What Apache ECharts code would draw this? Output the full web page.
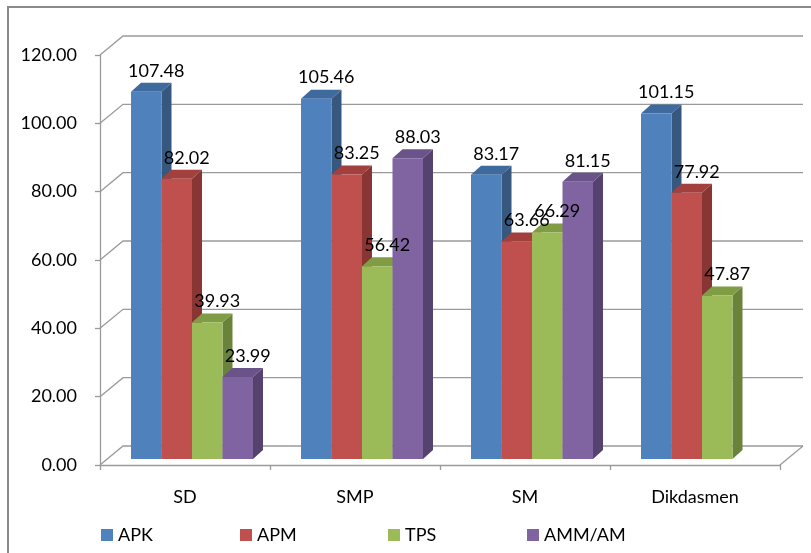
<!DOCTYPE html>
<html>
<head>
<meta charset="utf-8">
<script src="https://cdn.jsdelivr.net/npm/echarts@6/dist/echarts.min.js"></script>
<style>
  html, body { margin: 0; padding: 0; background: #fff; }
  #chart { width: 811px; height: 553px; }
</style>
</head>
<body>
<div id="chart"></div>
<script>
// Education participation indicators per school level
const categories = ['SD', 'SMP', 'SM', 'Dikdasmen'];
const seriesNames = ['APK', 'APM', 'TPS', 'AMM/AM'];
const apk = [107.48, 105.46, 83.17, 101.15];
const apm = [82.02, 83.25, 63.66, 77.92];
const tps = [39.93, 56.42, 66.29, 47.87];
const ammAm = [23.99, 88.03, 81.15, null];
const yTicks = [0, 20, 40, 60, 80, 100, 120];

const seriesValues = [apk, apm, tps, ammAm];

// face colours: front, top, side
const palette = [
  { front: '#4F81BD', top: '#3F6A9E', side: '#36587F' },
  { front: '#C0504D', top: '#A2403E', side: '#883533' },
  { front: '#9BBB59', top: '#809D45', side: '#6A833A' },
  { front: '#8064A2', top: '#6A5388', side: '#56426E' }
];

const FONT = 'Lato, "Open Sans", sans-serif';
const WALL_DX = 23, WALL_DY = 19;   // depth of the back wall
const BAR_DX = 10, BAR_DY = 9;      // depth of each bar
const BAR_SHIFT_X = 7, BAR_SHIFT_Y = -6; // bars sit a little behind the floor front edge
const BAR_W = 30.5;
const GRID_COLOR = '#9A9A9A';

function wallRender(params, api) {
  const cs = params.coordSys;
  const v = api.value(0);
  const y = api.coord([0, v])[1];
  const x0 = cs.x, x1 = cs.x + cs.width;
  const children = [
    { type: 'polyline', shape: { points: [[x0, y], [x0 + WALL_DX, y - WALL_DY], [x1 + WALL_DX, y - WALL_DY]] },
      style: { stroke: GRID_COLOR, lineWidth: 1.3, fill: null } }
  ];
  if (v === 0) {
    children.push({ type: 'line', shape: { x1: x1, y1: y, x2: x1 + WALL_DX, y2: y - WALL_DY },
      style: { stroke: GRID_COLOR, lineWidth: 1.3 } });
  }
  return { type: 'group', children: children };
}

function makeBarRender(idx) {
  const col = palette[idx];
  return function (params, api) {
    const cat = api.value(0);
    const val = api.value(1);
    if (val == null || isNaN(val)) return null;
    const base = api.coord([cat, 0]);
    const topPt = api.coord([cat, val]);
    const x = base[0] - 2 * BAR_W + idx * BAR_W + BAR_SHIFT_X;
    const yb = base[1] + BAR_SHIFT_Y;
    const yt = topPt[1] + BAR_SHIFT_Y;
    const w = BAR_W;
    return {
      type: 'group',
      children: [
        { type: 'polygon', shape: { points: [[x + w, yt], [x + w + BAR_DX, yt - BAR_DY], [x + w + BAR_DX, yb - BAR_DY], [x + w, yb]] },
          style: { fill: col.side } },
        { type: 'polygon', shape: { points: [[x, yt], [x + BAR_DX, yt - BAR_DY], [x + w + BAR_DX, yt - BAR_DY], [x + w, yt]] },
          style: { fill: col.top } },
        { type: 'rect', shape: { x: x, y: yt, width: w, height: yb - yt },
          style: { fill: col.front } },
        { type: 'text', x: x + w / 2 + 10, y: yt - 21,
          style: { text: val.toFixed(2), fill: '#000', font: '18px ' + FONT, align: 'center', verticalAlign: 'middle' }, z2: 10 }
      ]
    };
  };
}

const barSeries = seriesNames.map((name, idx) => ({
  name: name,
  type: 'custom',
  xAxisIndex: 0,
  yAxisIndex: 0,
  renderItem: makeBarRender(idx),
  itemStyle: { color: palette[idx].front },
  encode: { x: 0, y: 1 },
  data: categories.map((c, i) => [i, seriesValues[idx][i]]).filter(d => d[1] != null),
  z: 3
}));

const legendLefts = [96, 235, 383, 522];

const option = {
  animation: false,
  backgroundColor: '#fff',
  textStyle: { fontFamily: FONT },
  graphic: [
    { type: 'rect', shape: { x: 8, y: 7, width: 830, height: 580 },
      style: { fill: null, stroke: '#8A8A8A', lineWidth: 2 }, silent: true }
  ],
  legend: seriesNames.map((name, i) => ({
    data: [name],
    left: legendLefts[i],
    top: 521,
    icon: 'rect',
    itemWidth: 12,
    itemHeight: 12,
    itemGap: 5,
    textStyle: { fontSize: 18, color: '#000', fontFamily: FONT },
    selectedMode: false
  })),
  grid: { left: 100, top: 55, width: 680, height: 410, containLabel: false },
  xAxis: {
    type: 'category',
    data: categories,
    boundaryGap: true,
    axisLine: { lineStyle: { color: GRID_COLOR, width: 1.3 } },
    axisTick: { show: true, length: 5, lineStyle: { color: GRID_COLOR, width: 1.3 } },
    axisLabel: { margin: 23, fontSize: 18, color: '#000', fontFamily: FONT },
    splitLine: { show: false }
  },
  yAxis: {
    type: 'value',
    min: yTicks[0],
    max: yTicks[yTicks.length - 1],
    interval: 20,
    axisLine: { show: true, lineStyle: { color: GRID_COLOR, width: 1.3 } },
    axisTick: { show: true, length: 5, lineStyle: { color: GRID_COLOR, width: 1.3 } },
    axisLabel: { margin: 23, fontSize: 18, color: '#000', fontFamily: FONT,
      formatter: v => v.toFixed(2) },
    splitLine: { show: false }
  },
  series: [
    {
      type: 'custom',
      name: 'wall',
      renderItem: wallRender,
      data: yTicks.map(v => [v]),
      encode: { y: 0 },
      silent: true,
      z: 1
    }
  ].concat(barSeries)
};

const chart = echarts.init(document.getElementById('chart'), null, { renderer: 'canvas' });
chart.setOption(option);
</script>
</body>
</html>
